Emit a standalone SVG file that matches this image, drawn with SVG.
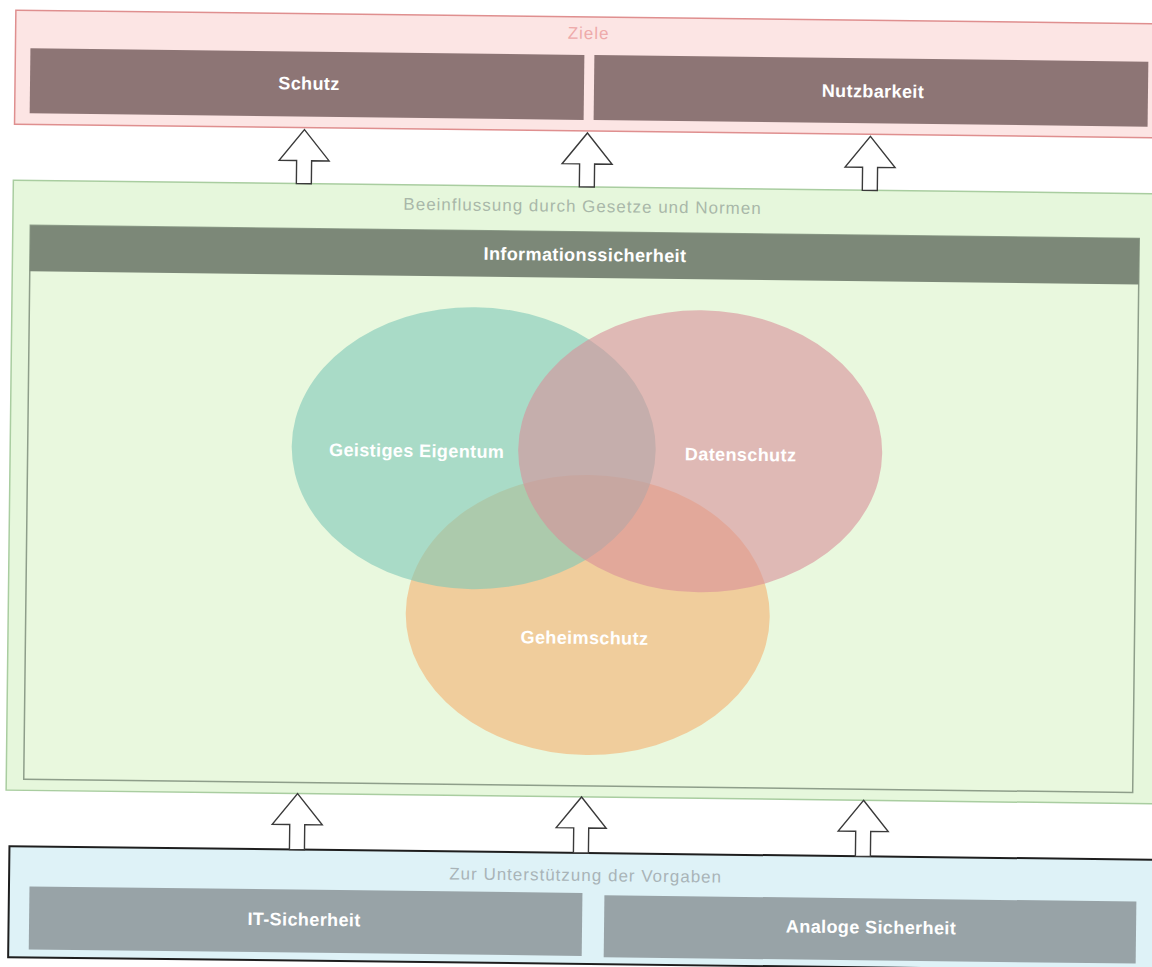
<svg xmlns="http://www.w3.org/2000/svg" width="1152" height="967" viewBox="0 0 1152 967">
<style>
.lbl{font-family:"Liberation Sans",Arial,sans-serif;font-weight:bold;font-size:18px;fill:#ffffff;text-anchor:middle;letter-spacing:0.4px}
.cap{font-family:"Liberation Sans",Arial,sans-serif;font-size:17px;text-anchor:middle;letter-spacing:1px}
.arrow{fill:#ffffff;stroke:#3a3a3a;stroke-width:1.4;stroke-linejoin:miter}
.venn{opacity:0.6}
</style>
<rect x="0" y="0" width="1152" height="967" fill="#ffffff"/>
<g transform="rotate(0.68)">
  <g id="ziele">
    <rect x="16" y="10" width="1160" height="114" fill="#fce5e4" stroke="#df8f8f" stroke-width="1.5"/>
    <text class="cap" x="589" y="32" fill="#eeaaaa">Ziele</text>
  </g>
  <g id="schutz">
    <rect x="31" y="48" width="554" height="65" fill="#8d7575"/>
    <text class="lbl" x="310" y="86">Schutz</text>
  </g>
  <g id="nutzbarkeit">
    <rect x="595" y="48" width="554" height="65" fill="#8d7575"/>
    <text class="lbl" x="874" y="87">Nutzbarkeit</text>
  </g>
  <g id="gesetze">
    <rect x="15.5" y="180" width="1160" height="610" fill="#e6f7dc" stroke="#a9cda0" stroke-width="1.5"/>
    <text class="cap" x="585" y="205" fill="#a9b7a9">Beeinflussung durch Gesetze und Normen</text>
  </g>
  <g id="informationssicherheit">
    <rect x="33" y="225" width="1109" height="554" fill="#e9f8de" stroke="#8e9e8a" stroke-width="1.5"/>
    <rect x="33" y="225" width="1109" height="46" fill="#7c8878"/>
    <text class="lbl" x="588" y="254">Informationssicherheit</text>
  </g>
  <g id="venn">
    <g id="geheimschutz">
      <ellipse class="venn" cx="595" cy="608" rx="182" ry="140" fill="#f5b070"/>
    </g>
    <g id="geistiges-eigentum">
      <ellipse class="venn" cx="479" cy="442.5" rx="182" ry="141" fill="#7fc8b8"/>
    </g>
    <g id="datenschutz">
      <ellipse class="venn" cx="705.5" cy="443" rx="182" ry="141" fill="#d88f9a"/>
    </g>
    <text class="lbl" x="422" y="452">Geistiges Eigentum</text>
    <text class="lbl" x="746" y="452">Datenschutz</text>
    <text class="lbl" x="592" y="637">Geheimschutz</text>
  </g>
  <g id="vorgaben">
    <rect x="19.5" y="846" width="1160" height="111" fill="#def2f7" stroke="#1e1e1e" stroke-width="2"/>
    <text class="cap" x="596" y="874" fill="#a9b4b8">Zur Unterstützung der Vorgaben</text>
  </g>
  <g id="it-sicherheit">
    <rect x="40" y="886" width="553" height="63" fill="#98a3a7"/>
    <text class="lbl" x="315" y="922">IT-Sicherheit</text>
  </g>
  <g id="analoge-sicherheit">
    <rect x="615" y="888" width="532" height="62" fill="#98a3a7"/>
    <text class="lbl" x="882" y="923">Analoge Sicherheit</text>
  </g>
  <g id="connectors">
    <path class="arrow" d="M306,126 L331,157 L313.5,157 L313.5,180 L298.5,180 L298.5,157 L281,157 Z"/>
    <path class="arrow" d="M589,126 L614,157 L596.5,157 L596.5,180 L581.5,180 L581.5,157 L564,157 Z"/>
    <path class="arrow" d="M872,126 L897,157 L879.5,157 L879.5,180 L864.5,180 L864.5,157 L847,157 Z"/>
    <path class="arrow" d="M307,790 L332,821 L314.5,821 L314.5,846 L299.5,846 L299.5,821 L282,821 Z"/>
    <path class="arrow" d="M591,790 L616,821 L598.5,821 L598.5,846 L583.5,846 L583.5,821 L566,821 Z"/>
    <path class="arrow" d="M873,790 L898,821 L880.5,821 L880.5,846 L865.5,846 L865.5,821 L848,821 Z"/>
  </g>
</g>
</svg>
